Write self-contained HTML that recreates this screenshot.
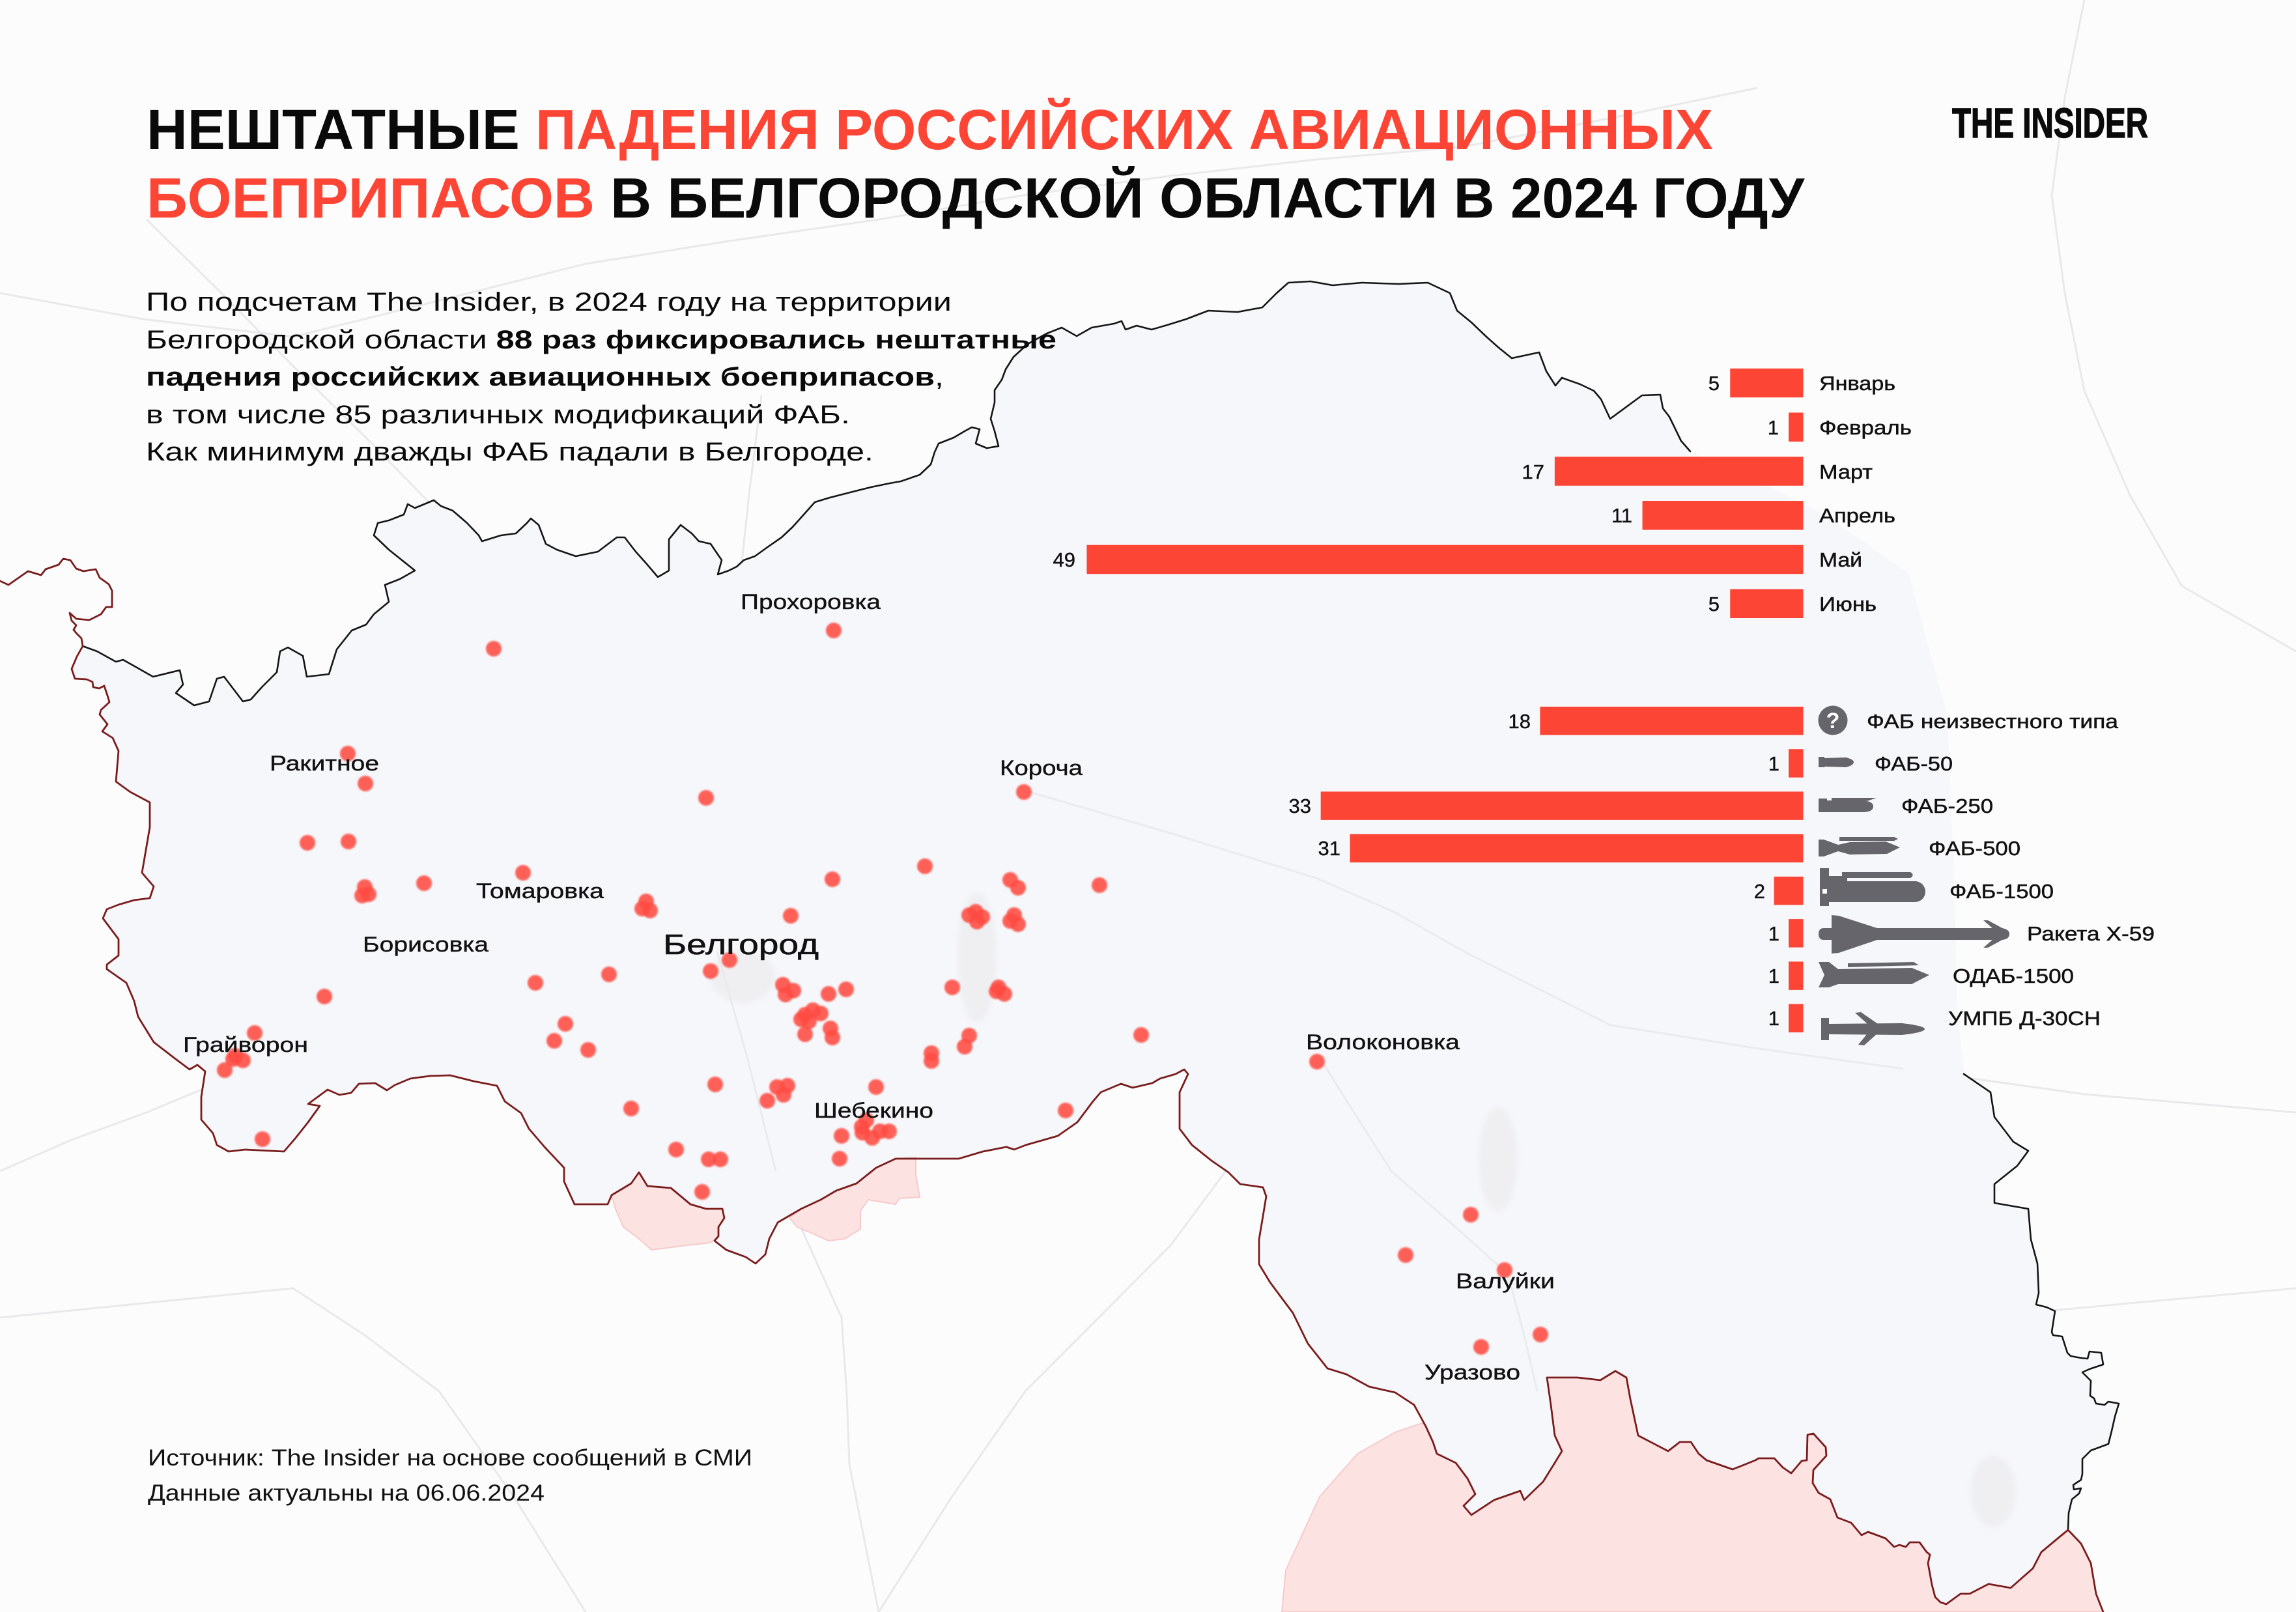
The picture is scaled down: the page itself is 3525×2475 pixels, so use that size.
<!DOCTYPE html>
<html lang="ru">
<head>
<meta charset="utf-8">
<style>
html,body{margin:0;padding:0;background:#fcfcfc;}
body{width:3525px;height:2475px;overflow:hidden;}
svg{display:block;}
text{font-family:"Liberation Sans","DejaVu Sans",sans-serif;}
.lbl{font-size:31px;fill:#111;stroke:#111;stroke-width:0.5;}
.num{font-size:31px;fill:#111;text-anchor:end;stroke:#111;stroke-width:0.4;}
.city{font-size:32px;fill:#111;stroke:#111;stroke-width:0.4;}
.bar{fill:#fd4536;}
.ic{fill:#66656b;}
.rd{fill:none;stroke:#e9e9eb;stroke-width:3;stroke-linejoin:round;}
</style>
</head>
<body>
<svg width="3525" height="2475" viewBox="0 0 3525 2475" xmlns="http://www.w3.org/2000/svg">
<defs>
<filter id="soft" x="-10%" y="-10%" width="120%" height="120%"><feGaussianBlur stdDeviation="1.3"/></filter>
<filter id="soft2" x="-20%" y="-20%" width="140%" height="140%"><feGaussianBlur stdDeviation="4"/></filter>
</defs>

<!-- background -->
<rect x="0" y="0" width="3525" height="2475" fill="#fcfcfc"/>

<!-- roads -->
<g>
<polyline class="rd" points="1169,607 1150,760 1135,899 1130,1030 1124,1169 1110,1320 1101,1461 1146,1619 1191,1798 1250,1930 1292,2023 1300,2140 1304,2248 1349,2475"/>
<polyline class="rd" points="1124,1461 1240,1400 1349,1349 1470,1290 1574,1214 1650,1110 1708,1012 1760,850 1798,674"/>
<polyline class="rd" points="1574,1214 1800,1280 2023,1349 2140,1400 2248,1461 2473,1574 2700,1610 2922,1641 3200,1680 3525,1708"/>
<polyline class="rd" points="1124,1461 1000,1445 899,1439 780,1490 674,1529 560,1580 450,1619 340,1660 225,1708 110,1750 0,1798"/>
<polyline class="rd" points="1124,1461 1060,1340 1012,1236 930,1120 854,1012 760,900 674,787 560,670 450,562 340,450 225,337"/>
<polyline class="rd" points="0,450 220,490 450,517 680,460 899,405 1120,370 1349,337 1570,300 1798,270 2020,245 2248,225 2480,180 2698,135"/>
<polyline class="rd" points="2023,1619 2080,1710 2136,1798 2230,1880 2315,1956 2340,2050 2360,2136 2372,2300 2383,2475"/>
<polyline class="rd" points="2315,1956 2500,1930 2698,1911 2870,1960 3035,2023 3280,2000 3525,1978"/>
<polyline class="rd" points="0,2023 230,2000 450,1978 560,2050 674,2136 790,2300 899,2475"/>
<polyline class="rd" points="1349,2475 1460,2300 1574,2136 1690,2020 1798,1911 1910,1760 2023,1619"/>
<polyline class="rd" points="3200,0 3170,150 3150,300 3170,450 3200,600 3270,760 3350,900 3525,1000"/>
</g>

<!-- region fill -->
<polygon fill="#f6f7fb" points="127,992 149,1000 178,1016 189,1013 212,1026 235,1039 276,1029 281,1051 270,1064 298,1083 321,1077 333,1042 344,1039 373,1077 385,1074 402,1055 425,1032 430,1000 442,994 465,1007 471,1039 505,1035 517,997 540,968 562,959 574,943 597,924 591,898 614,889 637,876 597,844 574,822 580,803 597,799 620,790 626,774 637,780 666,768 677,777 695,784 717,803 735,822 740,831 769,822 792,819 809,803 815,796 827,806 838,835 855,844 884,854 918,847 947,825 959,825 976,847 993,866 1010,886 1027,876 1027,828 1045,806 1062,819 1073,831 1091,835 1108,860 1102,882 1119,876 1131,870 1142,860 1159,854 1177,841 1200,825 1217,809 1234,790 1251,771 1274,764 1309,755 1337,748 1366,742 1383,739 1412,729 1429,713 1435,694 1441,681 1464,672 1481,662 1492,656 1504,659 1498,681 1515,688 1533,685 1527,662 1521,643 1527,618 1527,599 1538,583 1544,567 1556,548 1578,528 1607,512 1630,503 1653,516 1676,503 1710,497 1722,493 1728,506 1745,500 1768,506 1792,499 1821,490 1855,477 1900,479 1938,472 1960,450 1978,434 2012,432 2046,438 2091,434 2147,436 2192,434 2226,450 2237,477 2259,495 2282,517 2300,533 2321,550 2363,541 2374,570 2388,592 2398,580 2426,590 2447,600 2458,613 2472,643 2521,607 2549,606 2553,627 2563,640 2581,677 2595,693 2680,730 2800,790 2930,880 2990,1100 3000,1350 3005,1550 3015,1649 3056,1677 3062,1715 3091,1753 3114,1767 3097,1790 3062,1818 3062,1847 3114,1856 3118,1903 3128,1940 3130,1985 3126,2003 3142,2007 3155,2013 3150,2045 3152,2050 3166,2052 3174,2077 3179,2082 3195,2085 3205,2086 3208,2075 3226,2077 3229,2095 3208,2102 3197,2107 3210,2120 3209,2143 3215,2147 3218,2155 3231,2157 3237,2152 3253,2155 3247,2175 3242,2197 3237,2217 3210,2227 3197,2240 3197,2263 3195,2272 3183,2280 3184,2287 3195,2285 3192,2293 3181,2302 3176,2323 3175,2349 3158,2363 3134,2383 3121,2408 3087,2438 3053,2432 3024,2447 3010,2447 2988,2463 2979,2460 2971,2452 2966,2433 2960,2400 2963,2387 2958,2383 2947,2368 2932,2368 2926,2375 2916,2372 2908,2375 2895,2362 2868,2352 2858,2357 2842,2338 2821,2330 2810,2302 2792,2292 2783,2277 2784,2257 2804,2235 2803,2222 2784,2201 2775,2203 2774,2242 2766,2243 2750,2262 2737,2253 2724,2239 2700,2239 2695,2242 2660,2256 2620,2242 2608,2232 2596,2214 2579,2214 2561,2228 2515,2204 2503,2148 2497,2115 2480,2105 2457,2119 2422,2115 2375,2115 2381,2157 2387,2204 2398,2228 2387,2246 2369,2275 2340,2303 2334,2289 2294,2303 2259,2326 2247,2312 2265,2294 2253,2270 2235,2246 2206,2232 2200,2214 2189,2190 2171,2157 2142,2138 2102,2129 2067,2110 2038,2101 2008,2063 1985,2016 1950,1969 1933,1941 1933,1903 1944,1837 1939,1823 1904,1818 1886,1800 1860,1782 1830,1758 1811,1733 1811,1677 1824,1649 1818,1642 1805,1649 1781,1656 1769,1663 1739,1670 1721,1664 1690,1677 1678,1691 1654,1723 1624,1744 1575,1758 1557,1765 1545,1761 1509,1768 1472,1779 1412,1779 1375,1779 1345,1793 1315,1817 1284,1828 1260,1842 1230,1856 1206,1870 1194,1877 1181,1902 1175,1926 1160,1940 1145,1930 1115,1919 1097,1905 1103,1898 1103,1884 1112,1870 1109,1856 1084,1856 1060,1849 1030,1824 994,1821 981,1800 969,1817 939,1835 933,1849 882,1849 866,1814 866,1793 836,1761 812,1733 800,1709 775,1691 763,1667 727,1660 691,1651 660,1652 630,1656 606,1666 594,1674 576,1663 551,1664 539,1678 521,1681 503,1673 473,1695 491,1698 473,1723 454,1747 436,1768 376,1765 351,1768 333,1758 327,1740 309,1719 309,1684 315,1645 303,1635 291,1642 267,1624 236,1600 212,1561 206,1537 194,1509 164,1488 164,1481 182,1467 182,1442 158,1410 164,1396 182,1389 206,1382 230,1379 236,1361 218,1340 224,1305 230,1270 230,1232 200,1216 178,1200 182,1153 173,1133 157,1123 165,1112 153,1097 155,1090 168,1078 165,1068 160,1053 152,1057 143,1055 142,1047 133,1043 115,1042 110,1027 118,1008"/>

<!-- patches inside region (subtle) -->
<g fill="#efeff2" filter="url(#soft2)">
<ellipse cx="1140" cy="1500" rx="50" ry="40"/>
<ellipse cx="1500" cy="1470" rx="30" ry="100"/>
<ellipse cx="2300" cy="1780" rx="30" ry="80"/>
<ellipse cx="3060" cy="2290" rx="35" ry="55"/>
</g>
<g opacity="0.9">
<polyline class="rd" points="1101,1461 1146,1619 1191,1798"/>
<polyline class="rd" points="2023,1619 2080,1710 2136,1798 2230,1880 2315,1956 2340,2050 2360,2136"/>
<polyline class="rd" points="1574,1214 1800,1280 2023,1349 2140,1400 2248,1461 2473,1574 2700,1610 2922,1641"/>
</g>

<!-- pink areas -->
<g fill="#fde2e2" stroke="#f6caca" stroke-width="2">
<polygon points="981,1800 994,1821 1030,1824 1060,1849 1084,1856 1109,1856 1112,1870 1103,1884 1103,1898 1091,1908 1054,1912 1024,1916 1000,1919 981,1902 957,1884 945,1856 939,1835 969,1817"/>
<polygon points="1212,1870 1230,1856 1260,1842 1284,1828 1315,1817 1345,1793 1375,1779 1406,1777 1406,1803 1412,1838 1381,1840 1375,1849 1333,1842 1321,1859 1321,1887 1297,1902 1272,1905 1248,1894 1224,1884"/>
<polygon points="1968,2475 1974,2411 2026,2298 2084,2232 2142,2199 2183,2185 2189,2190 2200,2214 2206,2232 2235,2246 2253,2270 2265,2294 2247,2312 2259,2326 2294,2303 2334,2289 2340,2303 2369,2275 2387,2246 2398,2228 2387,2204 2381,2157 2375,2115 2422,2115 2457,2119 2480,2105 2497,2115 2503,2148 2515,2204 2561,2228 2579,2214 2596,2214 2608,2232 2620,2242 2660,2256 2695,2242 2700,2239 2724,2239 2737,2253 2750,2262 2766,2243 2774,2242 2775,2203 2784,2201 2803,2222 2804,2235 2784,2257 2783,2277 2792,2292 2810,2302 2821,2330 2842,2338 2858,2357 2868,2352 2895,2362 2908,2375 2916,2372 2926,2375 2932,2368 2947,2368 2958,2383 2963,2387 2960,2400 2966,2433 2971,2452 2979,2460 2988,2463 3010,2447 3024,2447 3053,2432 3087,2438 3121,2408 3134,2383 3158,2363 3175,2349 3195,2370 3210,2400 3218,2447 3229,2475"/>
</g>

<!-- borders -->
<g fill="none" stroke-linejoin="round" stroke-linecap="round">
<polyline stroke="#151515" stroke-width="2.6" points="127,992 149,1000 178,1016 189,1013 212,1026 235,1039 276,1029 281,1051 270,1064 298,1083 321,1077 333,1042 344,1039 373,1077 385,1074 402,1055 425,1032 430,1000 442,994 465,1007 471,1039 505,1035 517,997 540,968 562,959 574,943 597,924 591,898 614,889 637,876 597,844 574,822 580,803 597,799 620,790 626,774 637,780 666,768 677,777 695,784 717,803 735,822 740,831 769,822 792,819 809,803 815,796 827,806 838,835 855,844 884,854 918,847 947,825 959,825 976,847 993,866 1010,886 1027,876 1027,828 1045,806 1062,819 1073,831 1091,835 1108,860 1102,882 1119,876 1131,870 1142,860 1159,854 1177,841 1200,825 1217,809 1234,790 1251,771 1274,764 1309,755 1337,748 1366,742 1383,739 1412,729 1429,713 1435,694 1441,681 1464,672 1481,662 1492,656 1504,659 1498,681 1515,688 1533,685 1527,662 1521,643 1527,618 1527,599 1538,583 1544,567 1556,548 1578,528 1607,512 1630,503 1653,516 1676,503 1710,497 1722,493 1728,506 1745,500 1768,506 1792,499 1821,490 1855,477 1900,479 1938,472 1960,450 1978,434 2012,432 2046,438 2091,434 2147,436 2192,434 2226,450 2237,477 2259,495 2282,517 2300,533 2321,550 2363,541 2374,570 2388,592 2398,580 2426,590 2447,600 2458,613 2472,643 2521,607 2549,606 2553,627 2563,640 2581,677 2595,693"/>
<polyline stroke="#151515" stroke-width="2.6" points="3015,1649 3056,1677 3062,1715 3091,1753 3114,1767 3097,1790 3062,1818 3062,1847 3114,1856 3118,1903 3128,1940 3130,1985 3126,2003 3142,2007 3155,2013 3150,2045 3152,2050 3166,2052 3174,2077 3179,2082 3195,2085 3205,2086 3208,2075 3226,2077 3229,2095 3208,2102 3197,2107 3210,2120 3209,2143 3215,2147 3218,2155 3231,2157 3237,2152 3253,2155 3247,2175 3242,2197 3237,2217 3210,2227 3197,2240 3197,2263 3195,2272 3183,2280 3184,2287 3195,2285 3192,2293 3181,2302 3176,2323 3175,2349"/>
<polyline stroke="#7a1c1c" stroke-width="2.8" points="0,892 13,898 43,877 63,883 70,874 90,867 97,858 108,860 117,873 128,877 147,874 153,887 167,897 172,907 172,932 163,932 155,943 137,952 117,950 107,941 110,953 117,960 113,967 117,972 125,980 127,992"/>
<polyline stroke="#7a1c1c" stroke-width="2.8" points="127,992 118,1008 110,1027 115,1042 133,1043 142,1047 143,1055 152,1057 160,1053 165,1068 168,1078 155,1090 153,1097 165,1112 157,1123 173,1133 182,1153 178,1200 200,1216 230,1232 230,1270 224,1305 218,1340 236,1361 230,1379 206,1382 182,1389 164,1396 158,1410 182,1442 182,1467 164,1481 164,1488 194,1509 206,1537 212,1561 236,1600 267,1624 291,1642 303,1635 315,1645 309,1684 309,1719 327,1740 333,1758 351,1768 376,1765 436,1768 454,1747 473,1723 491,1698 473,1695 503,1673 521,1681 539,1678 551,1664 576,1663 594,1674 606,1666 630,1656 660,1652 691,1651 727,1660 763,1667 775,1691 800,1709 812,1733 836,1761 866,1793 866,1814 882,1849 933,1849 939,1835 969,1817 981,1800 994,1821 1030,1824 1060,1849 1084,1856 1109,1856 1112,1870 1103,1884 1103,1898 1097,1905 1115,1919 1145,1930 1160,1940 1175,1926 1181,1902 1194,1877 1206,1870 1230,1856 1260,1842 1284,1828 1315,1817 1345,1793 1375,1779 1412,1779 1472,1779 1509,1768 1545,1761 1557,1765 1575,1758 1624,1744 1654,1723 1678,1691 1690,1677 1721,1664 1739,1670 1769,1663 1781,1656 1805,1649 1818,1642 1824,1649 1811,1677 1811,1733 1830,1758 1860,1782 1886,1800 1904,1818 1939,1823 1944,1837 1933,1903 1933,1941 1950,1969 1985,2016 2008,2063 2038,2101 2067,2110 2102,2129 2142,2138 2171,2157 2189,2190 2200,2214 2206,2232 2235,2246 2253,2270 2265,2294 2247,2312 2259,2326 2294,2303 2334,2289 2340,2303 2369,2275 2387,2246 2398,2228 2387,2204 2381,2157 2375,2115 2422,2115 2457,2119 2480,2105 2497,2115 2503,2148 2515,2204 2561,2228 2579,2214 2596,2214 2608,2232 2620,2242 2660,2256 2695,2242 2700,2239 2724,2239 2737,2253 2750,2262 2766,2243 2774,2242 2775,2203 2784,2201 2803,2222 2804,2235 2784,2257 2783,2277 2792,2292 2810,2302 2821,2330 2842,2338 2858,2357 2868,2352 2895,2362 2908,2375 2916,2372 2926,2375 2932,2368 2947,2368 2958,2383 2963,2387 2960,2400 2966,2433 2971,2452 2979,2460 2988,2463 3010,2447 3024,2447 3053,2432 3087,2438 3121,2408 3134,2383 3158,2363 3175,2349 3195,2370 3210,2400 3218,2447 3229,2475"/>
</g>

<!-- dots -->
<g fill="#ff4b42" fill-opacity="0.88" filter="url(#soft)">
<circle cx="1280" cy="968" r="12"/>
<circle cx="758" cy="996" r="12"/>
<circle cx="534" cy="1157" r="12"/>
<circle cx="561" cy="1203" r="12"/>
<circle cx="1084" cy="1225" r="12"/>
<circle cx="1572" cy="1216" r="12"/>
<circle cx="472" cy="1294" r="12"/>
<circle cx="535" cy="1292" r="12"/>
<circle cx="560" cy="1362" r="12"/>
<circle cx="566" cy="1373" r="12"/>
<circle cx="556" cy="1375" r="12"/>
<circle cx="651" cy="1356" r="12"/>
<circle cx="803" cy="1340" r="12"/>
<circle cx="992" cy="1384" r="12"/>
<circle cx="998" cy="1398" r="12"/>
<circle cx="986" cy="1395" r="12"/>
<circle cx="1278" cy="1350" r="12"/>
<circle cx="1420" cy="1330" r="12"/>
<circle cx="1551" cy="1351" r="12"/>
<circle cx="1563" cy="1363" r="12"/>
<circle cx="1688" cy="1359" r="12"/>
<circle cx="1214" cy="1406" r="12"/>
<circle cx="1488" cy="1405" r="12"/>
<circle cx="1500" cy="1415" r="12"/>
<circle cx="1498" cy="1400" r="12"/>
<circle cx="1508" cy="1408" r="12"/>
<circle cx="1551" cy="1414" r="12"/>
<circle cx="1563" cy="1419" r="12"/>
<circle cx="1557" cy="1405" r="12"/>
<circle cx="1120" cy="1474" r="12"/>
<circle cx="1091" cy="1491" r="12"/>
<circle cx="935" cy="1496" r="12"/>
<circle cx="822" cy="1509" r="12"/>
<circle cx="498" cy="1530" r="12"/>
<circle cx="1202" cy="1512" r="12"/>
<circle cx="1218" cy="1521" r="12"/>
<circle cx="1206" cy="1527" r="12"/>
<circle cx="1272" cy="1526" r="12"/>
<circle cx="1299" cy="1519" r="12"/>
<circle cx="1462" cy="1516" r="12"/>
<circle cx="1533" cy="1516" r="12"/>
<circle cx="1542" cy="1526" r="12"/>
<circle cx="1530" cy="1522" r="12"/>
<circle cx="1752" cy="1589" r="12"/>
<circle cx="1236" cy="1558" r="12"/>
<circle cx="1248" cy="1551" r="12"/>
<circle cx="1260" cy="1556" r="12"/>
<circle cx="1230" cy="1565" r="12"/>
<circle cx="1242" cy="1568" r="12"/>
<circle cx="1275" cy="1579" r="12"/>
<circle cx="1278" cy="1593" r="12"/>
<circle cx="1236" cy="1588" r="12"/>
<circle cx="868" cy="1572" r="12"/>
<circle cx="851" cy="1598" r="12"/>
<circle cx="903" cy="1612" r="12"/>
<circle cx="1488" cy="1590" r="12"/>
<circle cx="1481" cy="1607" r="12"/>
<circle cx="1430" cy="1617" r="12"/>
<circle cx="1430" cy="1629" r="12"/>
<circle cx="391" cy="1586" r="12"/>
<circle cx="361" cy="1621" r="12"/>
<circle cx="373" cy="1628" r="12"/>
<circle cx="358" cy="1626" r="12"/>
<circle cx="345" cy="1643" r="12"/>
<circle cx="1098" cy="1665" r="12"/>
<circle cx="1193" cy="1669" r="12"/>
<circle cx="1209" cy="1667" r="12"/>
<circle cx="1203" cy="1681" r="12"/>
<circle cx="1178" cy="1690" r="12"/>
<circle cx="1345" cy="1669" r="12"/>
<circle cx="969" cy="1702" r="12"/>
<circle cx="1636" cy="1705" r="12"/>
<circle cx="1330" cy="1720" r="12"/>
<circle cx="1292" cy="1744" r="12"/>
<circle cx="1324" cy="1739" r="12"/>
<circle cx="1339" cy="1747" r="12"/>
<circle cx="1351" cy="1737" r="12"/>
<circle cx="1365" cy="1737" r="12"/>
<circle cx="1323" cy="1730" r="12"/>
<circle cx="1038" cy="1765" r="12"/>
<circle cx="1088" cy="1780" r="12"/>
<circle cx="1106" cy="1780" r="12"/>
<circle cx="1289" cy="1779" r="12"/>
<circle cx="403" cy="1749" r="12"/>
<circle cx="1078" cy="1830" r="12"/>
<circle cx="2022" cy="1630" r="12"/>
<circle cx="2258" cy="1865" r="12"/>
<circle cx="2158" cy="1927" r="12"/>
<circle cx="2310" cy="1950" r="12"/>
<circle cx="2365" cy="2049" r="12"/>
<circle cx="2274" cy="2068" r="12"/>
</g>

<!-- city labels -->
<text class="city" x="1137" y="935" textLength="215" lengthAdjust="spacingAndGlyphs">Прохоровка</text>
<text class="city" x="414" y="1183" textLength="168" lengthAdjust="spacingAndGlyphs">Ракитное</text>
<text class="city" x="1535" y="1190" textLength="127" lengthAdjust="spacingAndGlyphs">Короча</text>
<text class="city" x="731" y="1379" textLength="196" lengthAdjust="spacingAndGlyphs">Томаровка</text>
<text class="city" x="557" y="1461" textLength="193" lengthAdjust="spacingAndGlyphs">Борисовка</text>
<text x="1018" y="1465" font-size="44" fill="#111" stroke="#111" stroke-width="0.6" textLength="239" lengthAdjust="spacingAndGlyphs">Белгород</text>
<text class="city" x="281" y="1615" textLength="192" lengthAdjust="spacingAndGlyphs">Грайворон</text>
<text class="city" x="1250" y="1716" textLength="183" lengthAdjust="spacingAndGlyphs">Шебекино</text>
<text class="city" x="2005" y="1611" textLength="236" lengthAdjust="spacingAndGlyphs">Волоконовка</text>
<text class="city" x="2235" y="1978" textLength="152" lengthAdjust="spacingAndGlyphs">Валуйки</text>
<text class="city" x="2187" y="2118" textLength="147" lengthAdjust="spacingAndGlyphs">Уразово</text>

<!-- title -->
<text x="225" y="229" font-size="87" font-weight="bold" fill="#0a0a0a" textLength="2405" lengthAdjust="spacingAndGlyphs">НЕШТАТНЫЕ <tspan fill="#fd4536">ПАДЕНИЯ РОССИЙСКИХ АВИАЦИОННЫХ</tspan></text>
<text x="225" y="334" font-size="87" font-weight="bold" fill="#0a0a0a" textLength="2545" lengthAdjust="spacingAndGlyphs"><tspan fill="#fd4536">БОЕПРИПАСОВ</tspan> В БЕЛГОРОДСКОЙ ОБЛАСТИ В 2024 ГОДУ</text>

<!-- logo -->
<text x="2997" y="211" font-size="64" font-weight="bold" fill="#0a0a0a" stroke="#0a0a0a" stroke-width="1.5" textLength="301" lengthAdjust="spacingAndGlyphs">THE INSIDER</text>

<!-- paragraph -->
<g font-size="40" fill="#0a0a0a">
<text x="224" y="477" textLength="1237" lengthAdjust="spacingAndGlyphs">По подсчетам The Insider, в 2024 году на территории</text>
<text x="224" y="535" textLength="1398" lengthAdjust="spacingAndGlyphs">Белгородской области <tspan font-weight="bold">88 раз фиксировались нештатные</tspan></text>
<text x="224" y="592" textLength="1225" lengthAdjust="spacingAndGlyphs"><tspan font-weight="bold">падения российских авиационных боеприпасов</tspan>,</text>
<text x="224" y="650" textLength="1081" lengthAdjust="spacingAndGlyphs">в том числе 85 различных модификаций ФАБ.</text>
<text x="224" y="707" textLength="1117" lengthAdjust="spacingAndGlyphs">Как минимум дважды ФАБ падали в Белгороде.</text>
</g>

<!-- source -->
<g font-size="35" fill="#111">
<text x="227" y="2250" textLength="928" lengthAdjust="spacingAndGlyphs">Источник: The Insider на основе сообщений в СМИ</text>
<text x="227" y="2304" textLength="609" lengthAdjust="spacingAndGlyphs">Данные актуальны на 06.06.2024</text>
</g>

<!-- chart 1: months -->
<g>
<rect class="bar" x="2656.25" y="565.75" width="112.25" height="44.5"/>
<rect class="bar" x="2746.05" y="633.5" width="22.45" height="44.5"/>
<rect class="bar" x="2386.85" y="701.25" width="381.65" height="44.5"/>
<rect class="bar" x="2521.55" y="769" width="246.95" height="44.5"/>
<rect class="bar" x="1668.45" y="836.75" width="1100.05" height="44.5"/>
<rect class="bar" x="2656.25" y="904.5" width="112.25" height="44.5"/>
<text class="num" x="2640" y="599">5</text>
<text class="num" x="2731" y="667">1</text>
<text class="num" x="2371" y="735">17</text>
<text class="num" x="2506" y="802">11</text>
<text class="num" x="1651" y="870">49</text>
<text class="num" x="2640" y="938">5</text>
<text class="lbl" x="2793" y="599" textLength="117" lengthAdjust="spacingAndGlyphs">Январь</text>
<text class="lbl" x="2793" y="667" textLength="142" lengthAdjust="spacingAndGlyphs">Февраль</text>
<text class="lbl" x="2793" y="735" textLength="82" lengthAdjust="spacingAndGlyphs">Март</text>
<text class="lbl" x="2793" y="802" textLength="117" lengthAdjust="spacingAndGlyphs">Апрель</text>
<text class="lbl" x="2793" y="870" textLength="66" lengthAdjust="spacingAndGlyphs">Май</text>
<text class="lbl" x="2793" y="938" textLength="88" lengthAdjust="spacingAndGlyphs">Июнь</text>
</g>

<!-- chart 2: types -->
<g>
<rect class="bar" x="2364.4" y="1085" width="404.1" height="43.5"/>
<rect class="bar" x="2746.05" y="1150.2" width="22.45" height="43.5"/>
<rect class="bar" x="2027.65" y="1215.4" width="740.85" height="43.5"/>
<rect class="bar" x="2072.55" y="1280.7" width="695.95" height="43.5"/>
<rect class="bar" x="2723.6" y="1345.9" width="44.9" height="43.5"/>
<rect class="bar" x="2746.05" y="1411.1" width="22.45" height="43.5"/>
<rect class="bar" x="2746.05" y="1476.4" width="22.45" height="43.5"/>
<rect class="bar" x="2746.05" y="1541.6" width="22.45" height="43.5"/>
<text class="num" x="2350" y="1118">18</text>
<text class="num" x="2732" y="1183">1</text>
<text class="num" x="2013" y="1248">33</text>
<text class="num" x="2058" y="1313">31</text>
<text class="num" x="2710" y="1379">2</text>
<text class="num" x="2732" y="1444">1</text>
<text class="num" x="2732" y="1509">1</text>
<text class="num" x="2732" y="1574">1</text>

<text class="lbl" x="2866" y="1118" textLength="386" lengthAdjust="spacingAndGlyphs">ФАБ неизвестного типа</text>
<text class="lbl" x="2878" y="1183" textLength="120" lengthAdjust="spacingAndGlyphs">ФАБ-50</text>
<text class="lbl" x="2919" y="1248" textLength="141" lengthAdjust="spacingAndGlyphs">ФАБ-250</text>
<text class="lbl" x="2961" y="1313" textLength="141" lengthAdjust="spacingAndGlyphs">ФАБ-500</text>
<text class="lbl" x="2993" y="1379" textLength="160" lengthAdjust="spacingAndGlyphs">ФАБ-1500</text>
<text class="lbl" x="3112" y="1444" textLength="196" lengthAdjust="spacingAndGlyphs">Ракета Х-59</text>
<text class="lbl" x="2998" y="1509" textLength="186" lengthAdjust="spacingAndGlyphs">ОДАБ-1500</text>
<text class="lbl" x="2991" y="1574" textLength="234" lengthAdjust="spacingAndGlyphs">УМПБ Д-30СН</text>

<!-- icons -->
<circle class="ic" cx="2814" cy="1106" r="22.5"/>
<text x="2814" y="1118" font-size="34" font-weight="bold" fill="#fff" text-anchor="middle">?</text>

<!-- FAB-50 -->
<rect class="ic" x="2792" y="1162" width="9" height="16"/>
<path class="ic" d="M2801,1164 L2834,1163 Q2846,1166 2846,1170 Q2846,1175 2834,1178 L2801,1177 Z"/>

<!-- FAB-250 -->
<rect class="ic" x="2792" y="1226" width="13" height="21"/>
<path class="ic" d="M2805,1229 L2862,1229 Q2876,1231 2876,1238 Q2876,1246 2862,1247 L2805,1247 Z"/>
<path class="ic" d="M2812,1225 L2881,1225 L2868,1229.5 L2812,1229.5 Z"/>

<!-- FAB-500 -->
<path class="ic" d="M2792,1289 L2800,1289 L2822,1297 L2840,1293 L2895,1292 L2917,1301 L2897,1311 L2840,1312 L2822,1307 L2800,1315 L2792,1315 Z"/>
<path class="ic" d="M2824,1285 L2908,1285 L2914,1288 L2908,1291 L2824,1291 Z"/>

<!-- FAB-1500 -->
<rect class="ic" x="2794" y="1333" width="14" height="58"/>
<rect class="ic" x="2806" y="1345" width="30" height="12"/>
<path class="ic" d="M2808,1353 L2940,1353 A16,16 0 0 1 2940,1385 L2808,1385 Z"/>
<path class="ic" d="M2828,1339 L2932,1339 A4.5,4.5 0 0 1 2932,1348 L2828,1348 Z"/>
<rect x="2798" y="1365" width="7" height="7" fill="#fff"/>

<!-- X-59 -->
<path class="ic" d="M2800,1425 L3074,1425 Q3085,1427 3085,1434 Q3085,1442 3074,1443 L2800,1443 Q2792,1443 2792,1434 Q2792,1425 2800,1425 Z"/>
<path class="ic" d="M2812,1405 L2823,1406 L2885,1426 L2885,1442 L2823,1463 L2812,1464 Z"/>
<path class="ic" d="M3045,1413 L3052,1413 L3076,1426 L3060,1426 Z"/>
<path class="ic" d="M3045,1455 L3052,1455 L3076,1442 L3060,1442 Z"/>

<!-- ODAB-1500 -->
<path class="ic" d="M2792,1477 L2808,1477 L2822,1488 L2935,1486 L2962,1497 L2935,1511 L2822,1511 L2808,1516 L2792,1516 L2801,1497 Z"/>
<path class="ic" d="M2837,1479 L2938,1477 L2946,1482 L2837,1485 Z"/>

<!-- UMPB D-30SN -->
<rect class="ic" x="2796" y="1563" width="12" height="34"/>
<path class="ic" d="M2808,1572 L2920,1571 Q2955,1575 2955,1580 Q2955,1585 2920,1589 L2808,1588 Z"/>
<path class="ic" d="M2848,1555 L2857,1554 L2883,1572 L2867,1572 Z"/>
<path class="ic" d="M2866,1588 L2881,1588 L2862,1605 L2853,1604 Z"/>
</g>
</svg>
</body>
</html>
